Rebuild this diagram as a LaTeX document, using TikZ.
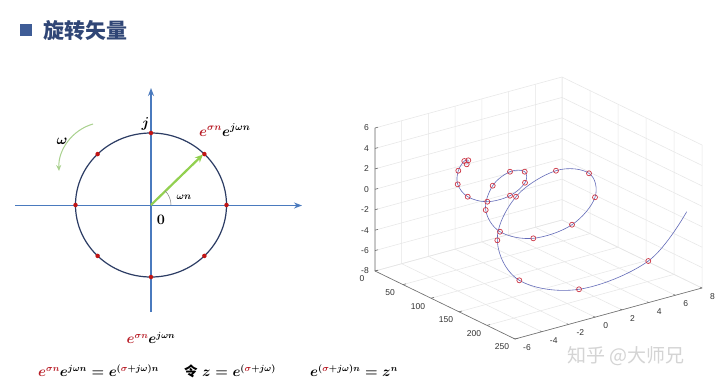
\documentclass[tikz,border=0pt]{standalone}
\usepackage{fontspec}
\usepackage{amsmath}
\usetikzlibrary{arrows.meta}
\newfontfamily\cjk{Noto Sans CJK SC}
\newfontfamily\tickf{Liberation Sans}
\definecolor{titleblue}{RGB}{48,70,118}
\definecolor{sqblue}{RGB}{62,92,150}
\definecolor{axblue}{RGB}{74,122,190}
\definecolor{circnavy}{RGB}{44,60,100}
\definecolor{dotred}{RGB}{192,20,20}
\definecolor{eqred}{RGB}{185,30,40}
\definecolor{arrgreen}{RGB}{146,208,80}
\definecolor{lightgreen}{RGB}{169,209,142}
\definecolor{gridgray}{RGB}{230,230,230}
\definecolor{axgray}{RGB}{110,110,110}
\definecolor{tickgray}{RGB}{50,50,50}
\definecolor{curveblue}{RGB}{100,108,185}
\definecolor{markred}{RGB}{205,55,70}
\definecolor{wmgray}{RGB}{212,212,212}
\newcommand\tdp[3]{({375+0.56*(#1)+13.357*((#2)+6)},{271+0.272*(#1)-3.643*((#2)+6)-10.214*((#3)+8)})}
\newcommand\rs[1]{\textcolor{eqred}{#1}}
\begin{document}
\begin{tikzpicture}[x=1pt,y=-1pt,
  axisline/.style={draw=axblue,line width=1.8pt,-{Stealth[length=8pt,width=6pt]}},
  unitcirc/.style={draw=circnavy,line width=1.2pt},
  reddot/.style={circle,fill=dotred,inner sep=0pt,minimum size=4.5pt},
  mathlbl/.style={inner sep=0pt,font=\boldmath\fontsize{14.5}{17}\selectfont},
  eqlbl/.style={inner sep=0pt,font=\boldmath\fontsize{13.5}{16}\selectfont},
  grid3/.style={draw=gridgray,line width=0.5pt},
  axis3/.style={draw=axgray,line width=0.6pt},
  ticklbl/.style={inner sep=0pt,font=\tickf\fontsize{8.5}{10}\selectfont,text=tickgray},
  curve3/.style={draw=curveblue,line width=0.6pt},
  mark3/.style={circle,draw=markred,line width=0.7pt,inner sep=0pt,minimum size=5pt}]
\useasboundingbox (0,0) rectangle (720,386);
\fill[white] (0,0) rectangle (720,386);
% title
\fill[sqblue] (20,24) rectangle (32,36);
\node[anchor=west,inner sep=0pt,text=titleblue,font=\cjk\bfseries\fontsize{21}{24}\selectfont] (title) at (43,31) {旋转矢量};
% left diagram
\coordinate (O) at (151,205);
\coordinate (xl) at (15,205.5);
\coordinate (xr) at (302,205.5);
\coordinate (yb) at (151,312);
\coordinate (yt) at (151,88);
\draw[unitcirc] (O) ellipse [x radius=75.5, y radius=72];
\draw[axisline] (xl) -- (xr);
\draw[axisline] (yb) -- (yt);
\foreach \a in {0,45,...,315}
  \node[reddot] at ({151+75.5*cos(\a)},{205-72*sin(\a)}) {};
\coordinate (tip) at (203,154.5);
\draw[draw=arrgreen,line width=2.2pt,-{Stealth[length=8pt,width=7pt]}] (O) -- (tip);
\draw[gray,line width=0.5pt] (171,205) arc (0:-45:20);
\node[inner sep=0pt,font=\boldmath\fontsize{10}{11}\selectfont] (wn) at (184,197) {$\omega n$};
\node[mathlbl] (zero) at (161,220) {$0$};
\node[mathlbl] (jl) at (145.5,124) {$j$};
\node[mathlbl,anchor=west] (vec) at (199,130) {$\rs{e^{\sigma n}}e^{j\omega n}$};
\coordinate (wa) at (93,124);
\coordinate (wb) at (59,171);
\draw[draw=lightgreen,line width=1pt,-{Stealth[length=6pt,width=5pt]}] (wa) .. controls (72,130) and (58,150) .. (wb);
\node[mathlbl] (om) at (62,141) {$\omega$};
% bottom formulas
\node[eqlbl] (mid) at (151,338) {$\rs{e^{\sigma n}}e^{j\omega n}$};
\node[eqlbl,anchor=west] (f1) at (38,371) {$\rs{e^{\sigma n}}e^{j\omega n}=e^{(\rs{\sigma}+j\omega)n}$};
\node[eqlbl,anchor=west] (f2) at (184,371) {{\cjk\bfseries 令}\ $z=e^{(\rs{\sigma}+j\omega)}$};
\node[eqlbl,anchor=west] (f3) at (310,371) {$e^{(\rs{\sigma}+j\omega)n}=z^n$};
% 3D plot grid
\foreach \n in {0,50,...,250} {
  \draw[grid3] \tdp{\n}{-6}{-8} -- \tdp{\n}{8}{-8} -- \tdp{\n}{8}{6};
}
\foreach \y in {-6,-4,...,8} {
  \draw[grid3] \tdp{250}{\y}{-8} -- \tdp{0}{\y}{-8} -- \tdp{0}{\y}{6};
}
\foreach \z in {-8,-6,...,6} {
  \draw[grid3] \tdp{0}{-6}{\z} -- \tdp{0}{8}{\z} -- \tdp{250}{8}{\z};
}
% axes
\draw[axis3] \tdp{0}{-6}{6} -- \tdp{0}{-6}{-8} -- \tdp{250}{-6}{-8} -- \tdp{250}{8}{-8};
\foreach \z in {-8,-6,...,6} {
  \draw[axis3] \tdp{0}{-6}{\z} -- ++(3,-0.8);
  \node[ticklbl,anchor=east,xshift=-6pt] at \tdp{0}{-6}{\z} {\z};
}
\foreach \n in {0,50,...,250} {
  \draw[axis3] \tdp{\n}{-6}{-8} -- ++(3,-0.8);
  \node[ticklbl,xshift=-13pt,yshift=-8pt] at \tdp{\n}{-6}{-8} {\n};
}
\foreach \y in {-6,-4,...,8} {
  \draw[axis3] \tdp{250}{\y}{-8} -- ++(-1.7,-0.8);
  \node[ticklbl,anchor=west,xshift=8pt,yshift=-8.5pt] at \tdp{250}{\y}{-8} {\y};
}
% spiral curve
\draw[curve3] plot[smooth,tension=0.6] coordinates {(466.7,164.3) (468.3,160.3) (464.3,161) (458.3,170.7) (457.7,184.3) (467.7,196.7) (487.3,201.7) (510,195.7) (525,182.7) (524.7,171.7) (510,171.7) (492.7,185.7) (485.7,210) (500,231.7) (533.3,238.3) (572,224.7) (595,197.3) (589,173.3) (556,170.7) (516,196.7) (497.3,240.3) (519.3,280.3) (579,289.3) (648.3,261) (686.7,211.7)};
\foreach \p in {(466.7,164.3),(468.3,160.3),(464.3,161),(458.3,170.7),(457.7,184.3),(467.7,196.7),(487.3,201.7),(510,195.7),(525,182.7),(524.7,171.7),(510,171.7),(492.7,185.7),(485.7,210),(500,231.7),(533.3,238.3),(572,224.7),(595,197.3),(589,173.3),(556,170.7),(516,196.7),(497.3,240.3),(519.3,280.3),(579,289.3),(648.3,261)}
  \node[mark3] at \p {};
% watermark
\node[anchor=west,inner sep=0pt,text=wmgray,font=\cjk\fontsize{19}{22}\selectfont] (wm) at (567,356) {知乎 @大师兄};
\end{tikzpicture}
\end{document}
